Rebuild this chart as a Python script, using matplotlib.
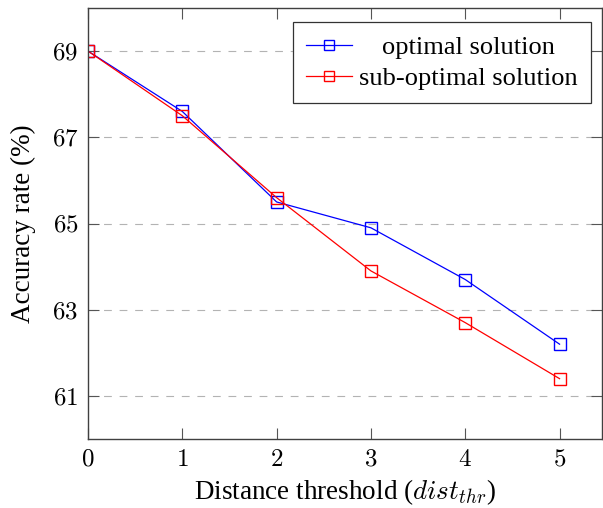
import matplotlib
matplotlib.use("Agg")
import matplotlib.pyplot as plt
from matplotlib.ticker import FuncFormatter

thresholds = [0, 1, 2, 3, 4, 5]
optimal = [69.0, 67.6, 65.5, 64.9, 63.7, 62.2]
sub_optimal = [69.0, 67.5, 65.6, 63.9, 62.7, 61.4]
y_ticks = [61, 63, 65, 67, 69]
labels = ["optimal solution", "sub-optimal solution"]

plt.rcParams['font.family'] = ['Liberation Serif', 'DejaVu Serif']
plt.rcParams['mathtext.fontset'] = 'cm'

fig = plt.figure(figsize=(6.03, 5.08), dpi=100)
ax = fig.add_axes([88/603, 69/508, (602-88)/603, (439-8)/508])

mk = dict(marker='s', markersize=9, markerfacecolor='none', markeredgewidth=1.0, linewidth=0.9)
ax.plot(thresholds, optimal, color='#0000ff', label=labels[0], **mk)
ax.plot(thresholds, sub_optimal, color='#ff0000', label=labels[1], **mk)

ax.set_xlim(0, 5.45)
ax.set_ylim(60, 70)
ax.set_xticks(thresholds)
ax.set_yticks(y_ticks)
ax.yaxis.grid(True, color='#b3b3b3', linestyle=(0, (7, 7)), linewidth=0.8)
ax.set_axisbelow(True)

fmt = FuncFormatter(lambda v, p: r'$%d$' % v)
ax.xaxis.set_major_formatter(fmt)
ax.yaxis.set_major_formatter(fmt)
ax.tick_params(direction='in', top=True, right=True, length=8, width=0.8,
               color='#555555', labelsize=18, pad=7)

for s in ax.spines.values():
    s.set_color('#404040')
    s.set_linewidth(1.0)

ax.set_xlabel(r'Distance threshold ($dist_{thr}$)', fontsize=19.5, labelpad=5)
ax.set_ylabel('Accuracy rate (%)', fontsize=19.5, labelpad=11)

leg = ax.legend(loc='upper right', bbox_to_anchor=(0.978, 0.967), fontsize=19,
                frameon=True, fancybox=False, edgecolor='#333333', framealpha=1,
                handlelength=1.75, handletextpad=0.25, borderpad=0.5, labelspacing=0.3,
                borderaxespad=0, markerscale=0.85)
leg.get_frame().set_linewidth(0.9)

fig.canvas.draw()
texts = leg.get_texts()
r = fig.canvas.get_renderer()
widths = [t.get_window_extent(r).width for t in texts]
wmax = max(widths)
for t, w in zip(texts, widths):
    t.set_position(((wmax - w) / 2, 0))

fig.savefig('out.png', dpi=100)
